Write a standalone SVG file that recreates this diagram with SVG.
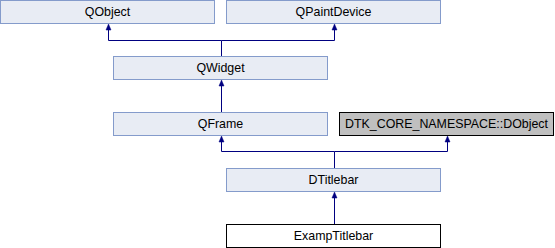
<svg xmlns="http://www.w3.org/2000/svg" width="555" height="248" viewBox="0 0 555 248">
  <style>
    .box { fill: #e8ecf4; stroke: #849bcb; stroke-width: 1; }
    .ext { fill: #bfbfbf; stroke: #000000; stroke-width: 1; }
    .cur { fill: #ffffff; stroke: #000000; stroke-width: 1; }
    .lbl { font-family: "Liberation Sans", Arial, sans-serif; font-size: 12.4px; fill: #000000; text-anchor: middle; }
    .edge { fill: none; stroke: #000080; stroke-width: 1; }
    .head { fill: #000080; stroke: #000080; stroke-width: 0.5; }
  </style>
  <defs>
    <!-- upward-pointing inheritance arrowhead, tip at origin -->
    <path id="up" class="head" d="M0,0 L-2.5,6 L2.5,6 Z"/>
  </defs>

  <!-- inheritance connectors -->
  <g id="edges">
    <path class="edge" d="M221.5,56 V40.5 H108.5 V26"/>
    <path class="edge" d="M221.5,40.5 H334.5 V26"/>
    <path class="edge" d="M221.5,112 V82"/>
    <path class="edge" d="M334.5,168 V151.5 H221.5 V138"/>
    <path class="edge" d="M334.5,151.5 H447.5 V138"/>
    <path class="edge" d="M334.5,224 V194"/>
    <use href="#up" x="108.5" y="24"/>
    <use href="#up" x="334.5" y="24"/>
    <use href="#up" x="221.5" y="80"/>
    <use href="#up" x="221.5" y="136"/>
    <use href="#up" x="447.5" y="136"/>
    <use href="#up" x="334.5" y="192"/>
  </g>

  <g id="QObject">
    <rect class="box" x="0.5" y="0.5" width="214" height="23"/>
    <text class="lbl" x="107.5" y="16">QObject</text>
  </g>
  <g id="QPaintDevice">
    <rect class="box" x="226.5" y="0.5" width="214" height="23"/>
    <text class="lbl" x="333.5" y="16">QPaintDevice</text>
  </g>
  <g id="QWidget">
    <rect class="box" x="113.5" y="56.5" width="214" height="23"/>
    <text class="lbl" x="220.5" y="72">QWidget</text>
  </g>
  <g id="QFrame">
    <rect class="box" x="113.5" y="112.5" width="214" height="23"/>
    <text class="lbl" x="220.5" y="128">QFrame</text>
  </g>
  <g id="DObject">
    <rect class="ext" x="339.5" y="112.5" width="214" height="23"/>
    <text class="lbl" x="446.5" y="128">DTK_CORE_NAMESPACE::DObject</text>
  </g>
  <g id="DTitlebar">
    <rect class="box" x="226.5" y="168.5" width="214" height="23"/>
    <text class="lbl" x="333.5" y="184">DTitlebar</text>
  </g>
  <g id="ExampTitlebar">
    <rect class="cur" x="226.5" y="224.5" width="214" height="23"/>
    <text class="lbl" x="333.5" y="240">ExampTitlebar</text>
  </g>
</svg>
